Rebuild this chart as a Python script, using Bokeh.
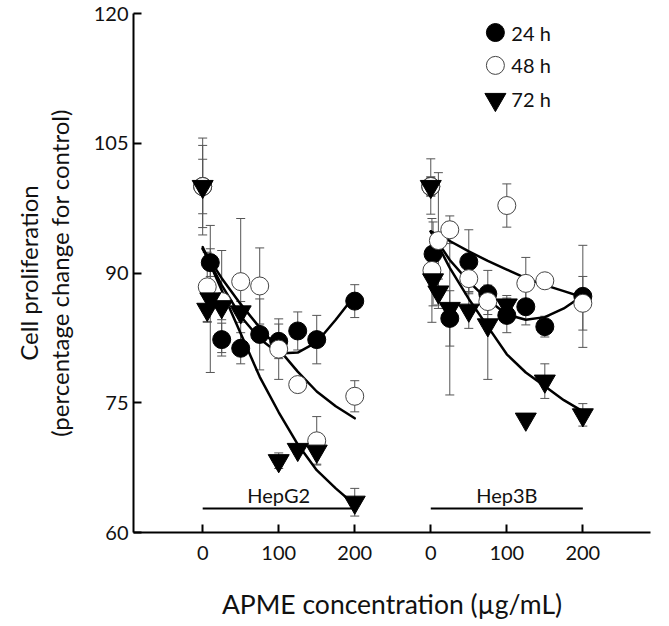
import numpy as np
from bokeh.plotting import figure
from bokeh.models import ColumnDataSource, Range1d, FixedTicker, Whisker, TeeHead, Title
from bokeh.core.properties import value
from bokeh.embed import file_html
from bokeh.resources import INLINE

FONT = "Lato"

# ---------------- data ----------------
tick_positions = [0, 100, 200, 300, 400, 500]
tick_labels = ["0", "100", "200", "0", "100", "200"]
y_ticks = [60, 75, 90, 105, 120]

groups = ["HepG2", "Hep3B"]
group_offset = [0, 300]
series_names = ["24 h", "48 h", "72 h"]

# HepG2 measured points (concentration, % of control, error)
g2_24_x = [0, 10, 25, 50, 75, 100, 125, 150, 200]
g2_24_y = [100, 91.2, 82.3, 81.3, 82.9, 82.1, 83.3, 82.3, 86.75]
g2_24_e = [3.15, 1.6, 1.9, 1.8, 4.1, 2.0, 2.2, 2.8, 1.9]

g2_48_x = [0, 6, 25, 50, 75, 100, 125, 150, 200]
g2_48_y = [100, 88.4, 86.7, 89.0, 88.5, 81.2, 77.1, 70.6, 75.75]
g2_48_e = [5.6, 4.0, 5.9, 7.3, 4.4, 3.5, 0, 2.8, 1.8]

g2_72_x = [0, 6, 10, 25, 50, 100, 125, 150, 200]
g2_72_y = [100, 85.8, 87.0, 86.1, 85.5, 68.3, 69.6, 69.4, 63.5]
g2_72_e = [4.75, 1.5, 8.5, 1.5, 1.2, 0.9, 0.5, 1.5, 1.6]

# Hep3B measured points
h3_24_x = [0, 3, 25, 50, 75, 100, 125, 150, 200]
h3_24_y = [100, 92.2, 84.75, 91.3, 87.6, 85.1, 86.1, 83.8, 87.3]
h3_24_e = [3.2, 3.7, 3.2, 3.7, 1.0, 2.0, 2.1, 1.2, 5.9]

h3_48_x = [0, 1.5, 10, 25, 50, 75, 100, 125, 150, 200]
h3_48_y = [100, 90.3, 93.75, 95.0, 89.35, 86.7, 97.8, 88.8, 89.1, 86.5]
h3_48_e = [1.1, 6.0, 7.85, 1.6, 1.5, 1.5, 2.5, 3.0, 0, 3.1]

h3_72_x = [0, 3, 10, 25, 50, 75, 100, 125, 150, 200]
h3_72_y = [100, 89.2, 87.8, 85.9, 85.7, 84.0, 86.3, 73.1, 77.5, 73.6]
h3_72_e = [1.1, 3.0, 1.5, 10.0, 2.1, 6.3, 1.1, 0.3, 2.0, 1.3]

# fitted curves
curve_x = [0, 25, 50, 75, 100, 125, 150, 175, 200]
g2_24_fit = [92.8, 88.6, 85.0, 82.4, 80.7, 80.8, 82.0, 84.6, 87.4]
g2_48_fit = [92.8, 89.4, 86.4, 83.7, 81.2, 78.6, 76.3, 74.6, 73.2]
g2_72_fit = [93.0, 88.0, 83.0, 78.0, 73.9, 70.2, 67.2, 65.1, 63.2]
h3_24_fit = [94.8, 91.5, 89.0, 86.9, 85.2, 84.6, 84.9, 85.9, 87.4]
h3_48_fit = [94.8, 93.7, 92.5, 91.4, 90.4, 89.4, 88.6, 87.9, 87.2]
h3_72_fit = [94.8, 90.6, 87.0, 83.8, 80.6, 78.5, 76.9, 75.3, 74.0]

group_range = [0, 200]
group_line_y = 62.77
group_label_y = 64.3

y_title_lines = ["Cell proliferation", "(percentage change for control)"]
x_title = "APME concentration (µg/mL)"

# ---------------- figure ----------------
p = figure(width=669, height=626, output_backend="svg", toolbar_location=None,
           x_range=Range1d(-91, 589), y_range=Range1d(60, 120),
           min_border_left=133, min_border_right=19, min_border_top=13, min_border_bottom=94)
p.background_fill_color = "white"
p.border_fill_color = "white"
p.outline_line_color = None
p.xgrid.visible = False
p.ygrid.visible = False

for ax in (p.xaxis, p.yaxis):
    ax.axis_line_width = 2
    ax.axis_line_color = "black"
    ax.major_tick_in = 8
    ax.major_tick_out = 0
    ax.major_tick_line_width = 2
    ax.major_tick_line_color = "black"
    ax.minor_tick_line_color = None
    ax.major_label_text_font = FONT
    ax.major_label_text_font_size = "20px"
    ax.major_label_text_color = "#111111"

p.xaxis.ticker = FixedTicker(ticks=tick_positions)
p.xaxis.major_label_overrides = {t: l for t, l in zip(tick_positions, tick_labels)}
p.xaxis.major_label_standoff = 13
p.xaxis.axis_label = x_title
p.xaxis.axis_label_standoff = 25
p.xaxis.axis_label_text_font = FONT
p.xaxis.axis_label_text_font_size = "26.5px"
p.xaxis.axis_label_text_font_style = "normal"
p.xaxis.axis_label_text_color = "#111111"
p.yaxis.ticker = FixedTicker(ticks=y_ticks)
p.yaxis.major_label_standoff = 5

def shift(xs, off):
    return [x + off for x in xs]

series = {
    "24": [(g2_24_x, g2_24_y, g2_24_e, 0), (h3_24_x, h3_24_y, h3_24_e, 1)],
    "48": [(g2_48_x, g2_48_y, g2_48_e, 0), (h3_48_x, h3_48_y, h3_48_e, 1)],
    "72": [(g2_72_x, g2_72_y, g2_72_e, 0), (h3_72_x, h3_72_y, h3_72_e, 1)],
}

# error bars
for key, parts in series.items():
    bx, up, lo = [], [], []
    for xs, ys, es, gi in parts:
        for x, y, e in zip(xs, ys, es):
            if e > 0:
                bx.append(x + group_offset[gi]); up.append(y + e); lo.append(y - e)
    src = ColumnDataSource(dict(x=bx, upper=up, lower=lo))
    w = Whisker(source=src, base="x", upper="upper", lower="lower",
                line_color="#555555", line_width=1, level="underlay",
                upper_head=TeeHead(size=9, line_color="#555555", line_width=1),
                lower_head=TeeHead(size=9, line_color="#555555", line_width=1))
    p.add_layout(w)

# group lines and labels
for gi, name in enumerate(groups):
    p.line(shift(group_range, group_offset[gi]), [group_line_y, group_line_y],
           line_color="black", line_width=2)
p.text(x=[sum(group_range) / 2 + o for o in group_offset], y=[group_label_y] * 2, text=groups,
       text_font=value(FONT), text_font_size="20px", text_align="center",
       text_baseline="middle", text_color="#111111")

# curves
for fit, gi in [(g2_24_fit, 0), (g2_48_fit, 0), (g2_72_fit, 0),
                (h3_24_fit, 1), (h3_48_fit, 1), (h3_72_fit, 1)]:
    p.line(shift(curve_x, group_offset[gi]), fit, line_color="black", line_width=2.5,
           line_join="round", line_cap="round")

def pts(key):
    X, Y = [], []
    for xs, ys, es, gi in series[key]:
        X += shift(xs, group_offset[gi]); Y += ys
    return X, Y

x24, y24 = pts("24")
x48, y48 = pts("48")
x72, y72 = pts("72")
p.scatter(x24, y24, marker="circle", size=18, fill_color="black", line_color="black")
p.scatter(x48, y48, marker="circle", size=18, fill_color="white", line_color="#444444", line_width=1)
p.scatter(x72, y72, marker="inverted_triangle", size=21, fill_color="black", line_color="black")

# legend
leg_x = 385
leg_y = [117.8, 114.0, 110.06]
p.scatter([leg_x], [leg_y[0]], marker="circle", size=18, fill_color="black", line_color="black")
p.scatter([leg_x], [leg_y[1]], marker="circle", size=18, fill_color="white", line_color="#444444", line_width=1)
p.scatter([leg_x], [leg_y[2]], marker="inverted_triangle", size=21, fill_color="black", line_color="black")
p.text(x=[leg_x + 21] * 3, y=leg_y, text=series_names, text_font=value(FONT),
       text_font_size="20px", text_align="left", text_baseline="middle", text_color="#111111")

# y axis title: a thin spacer, then the two lines (closest line first)
spacer = Title(text=" ", standoff=14, text_font_size="1px", text_font=FONT)
p.add_layout(spacer, "left")
t2 = Title(text=y_title_lines[1], align="center", offset=45, standoff=0,
           text_font=FONT, text_font_size="24px", text_font_style="normal", text_color="#111111")
p.add_layout(t2, "left")
t1 = Title(text=y_title_lines[0], align="center", offset=45, standoff=0,
           text_font=FONT, text_font_size="24px", text_font_style="normal", text_color="#111111")
p.add_layout(t1, "left")

open("out.html", "w").write(file_html(p, INLINE))
